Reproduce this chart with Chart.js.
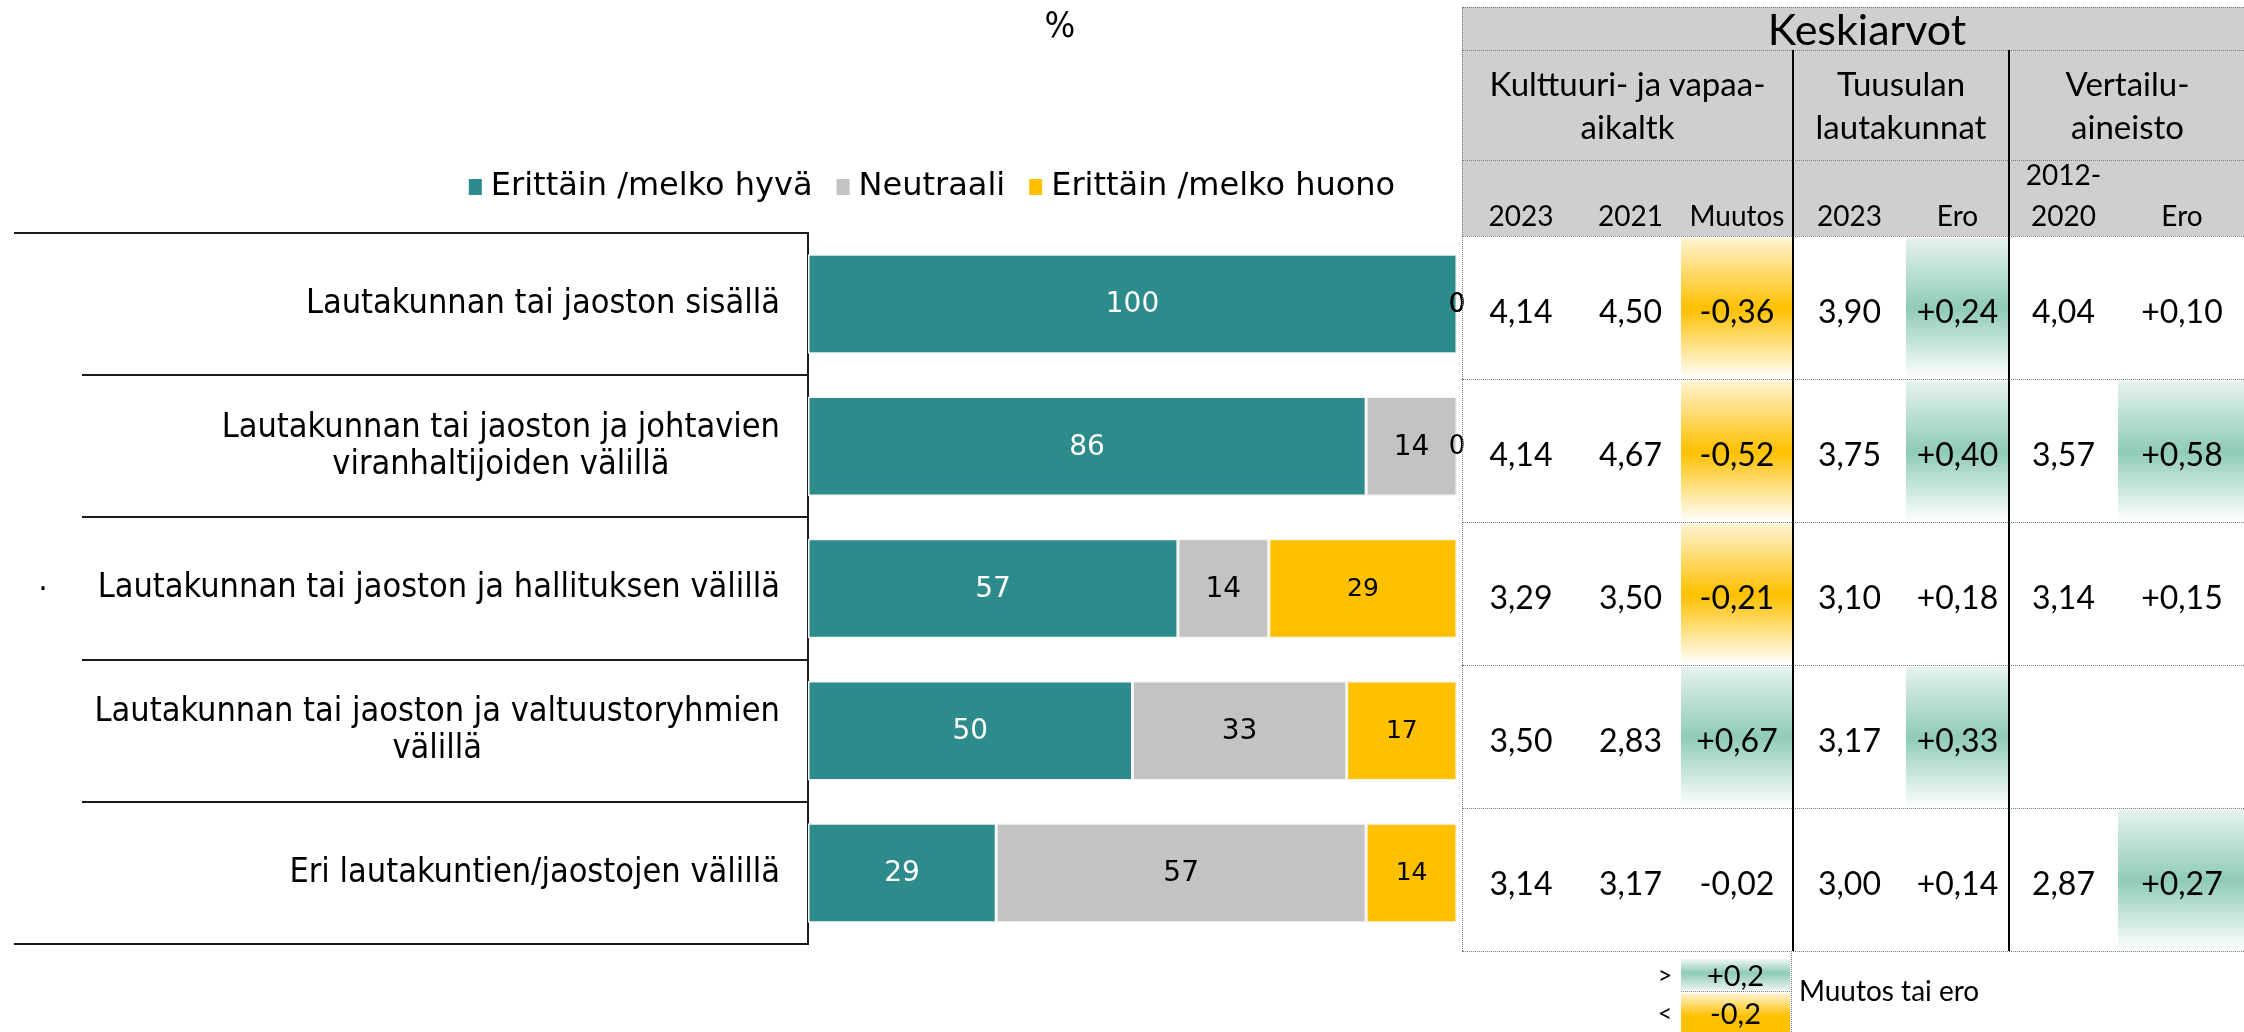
<!DOCTYPE html>
<html>
<head>
<meta charset="utf-8">
<script src="https://cdn.jsdelivr.net/npm/chart.js@4.4.0/dist/chart.umd.min.js"></script>
<style>
body{margin:0;background:#fff;}
#wrap{position:relative;width:2244px;height:1032px;overflow:hidden;}
#c{position:absolute;left:0;top:0;}
.cell{position:absolute;display:flex;align-items:center;justify-content:center;font-family:Lato,"Open Sans",sans-serif;color:#000;box-sizing:border-box;white-space:nowrap;text-align:center;}
.hl{position:absolute;border-top:1.5px dotted #7a7a7a;height:0;}
.vl{position:absolute;border-left:1.5px dotted #7a7a7a;width:0;}
.vb{position:absolute;background:#000;width:2px;}
</style>
</head>
<body>
<div id="wrap">
<canvas id="c" width="2244" height="1032"></canvas>
<div id="tbl"></div>
</div>
<script>
// bar chart data (%)
const categories = [
  ['Lautakunnan tai jaoston sisällä'],
  ['Lautakunnan tai jaoston ja johtavien', 'viranhaltijoiden välillä'],
  ['Lautakunnan tai jaoston ja hallituksen välillä'],
  ['Lautakunnan tai jaoston ja valtuustoryhmien', 'välillä'],
  ['Eri lautakuntien/jaostojen välillä']
];
const seriesNames = ['Erittäin /melko hyvä', 'Neutraali', 'Erittäin /melko huono'];
const goodShare = [100, 86, 57, 50, 29];
const neutralShare = [0, 14, 14, 33, 57];
const poorShare = [0, 0, 29, 17, 14];

// averages table
const kult2023 = [4.14, 4.14, 3.29, 3.50, 3.14];
const kult2021 = [4.50, 4.67, 3.50, 2.83, 3.17];
const kultChange = [-0.36, -0.52, -0.21, 0.67, -0.02];
const tuus2023 = [3.90, 3.75, 3.10, 3.17, 3.00];
const tuusDiff = [0.24, 0.40, 0.18, 0.33, 0.14];
const ref2012 = [4.04, 3.57, 3.14, null, 2.87];
const refDiff = [0.10, 0.58, 0.15, null, 0.27];

const colors = ['#2E8B8B', '#C4C3C4', '#FFC000'];
const labelFont = '"DejaVu Sans", Verdana, sans-serif';
const condFont = '"DejaVu Sans Condensed", "DejaVu Sans", sans-serif';

const extras = {
  id: 'extras',
  afterDatasetsDraw(chart) {
    const ctx = chart.ctx;
    chart.data.datasets.forEach((ds, di) => {
      const meta = chart.getDatasetMeta(di);
      meta.data.forEach((bar, i) => {
        const v = ds.data[i];
        const x = (bar.x + bar.base) / 2;
        ctx.save();
        let size = di === 2 ? 25 : 28;
        if (v === 0) size = 26;
        ctx.font = size + 'px ' + labelFont;
        ctx.fillStyle = di === 0 ? '#ffffff' : '#000000';
        ctx.textAlign = 'center';
        ctx.textBaseline = 'middle';
        ctx.fillText(String(v), x, bar.y + 1);
        ctx.restore();
      });
    });
  },
  afterDraw(chart) {
    const ctx = chart.ctx;
    const y = chart.scales.y;
    const area = chart.chartArea;
    const step = y.getPixelForValue(1) - y.getPixelForValue(0);
    ctx.save();
    // row lines of the label table
    ctx.strokeStyle = '#1a1a1a';
    ctx.lineWidth = 2;
    for (let i = 0; i <= categories.length; i++) {
      const py = Math.round(y.getPixelForValue(0) - step / 2 + i * step);
      const x0 = (i === 0 || i === categories.length) ? 14 : 82;
      ctx.beginPath();
      ctx.moveTo(x0, py);
      ctx.lineTo(area.left, py);
      ctx.stroke();
    }
    // category labels
    ctx.font = '34px ' + condFont;
    ctx.fillStyle = '#000';
    ctx.textBaseline = 'middle';
    const right = area.left - 28;
    categories.forEach((lines, i) => {
      const cy = y.getPixelForValue(i);
      const lh = 37;
      const widest = Math.max(...lines.map(l => ctx.measureText(l).width));
      lines.forEach((l, k) => {
        const ly = cy - (lines.length - 1) * lh / 2 + k * lh;
        if (lines.length === 1) {
          ctx.textAlign = 'right';
          ctx.fillText(l, right, ly);
        } else {
          ctx.textAlign = 'center';
          ctx.fillText(l, right - widest / 2, ly);
        }
      });
    });
    // legend
    ctx.font = '32px ' + labelFont;
    ctx.textAlign = 'left';
    const gap = 9, mw = 13, sp = 24;
    const widths = seriesNames.map(n => ctx.measureText(n).width);
    let total = widths.reduce((a, b) => a + b, 0) + seriesNames.length * (mw + gap) + sp * (seriesNames.length - 1);
    let lx = 932 - total / 2;
    const ly = 187;
    seriesNames.forEach((n, i) => {
      ctx.fillStyle = chart.data.datasets[i].backgroundColor;
      ctx.fillRect(lx, ly - 8, mw, 16);
      ctx.fillStyle = '#000';
      ctx.fillText(n, lx + mw + gap, ly);
      lx += mw + gap + widths[i] + sp;
    });
    // unit
    ctx.textAlign = 'center';
    ctx.font = '36px ' + condFont;
    ctx.fillText('%', 1060, 28);
    ctx.font = '30px ' + labelFont;
    ctx.fillText('·', 43, 591);
    ctx.restore();
  }
};

new Chart(document.getElementById('c'), {
  type: 'bar',
  data: {
    labels: categories,
    datasets: [
      {label: seriesNames[0], data: goodShare, backgroundColor: colors[0]},
      {label: seriesNames[1], data: neutralShare, backgroundColor: colors[1]},
      {label: seriesNames[2], data: poorShare, backgroundColor: colors[2]}
    ]
  },
  options: {
    indexAxis: 'y',
    responsive: false,
    animation: false,
    categoryPercentage: 1,
    barPercentage: 0.7,
    borderColor: '#f4f4f4',
    borderWidth: 1.5,
    borderSkipped: false,
    layout: {padding: {top: 233, bottom: 88, right: 787, left: 0}},
    plugins: {legend: {display: false}, title: {display: false}, tooltip: {enabled: false}},
    scales: {
      x: {stacked: true, min: 0, max: 100, display: false},
      y: {
        stacked: true,
        grid: {display: false},
        border: {display: true, color: '#1a1a1a', width: 2},
        ticks: {display: false},
        afterFit(s) { s.width = 808; }
      }
    }
  },
  plugins: [extras]
});

// ---- averages table (HTML) ----
const tbl = document.getElementById('tbl');
function cell(x, y, w, h, text, css) {
  const d = document.createElement('div');
  d.className = 'cell';
  d.style.left = x + 'px'; d.style.top = y + 'px';
  d.style.width = w + 'px'; d.style.height = h + 'px';
  if (css) d.style.cssText += css;
  d.innerHTML = text;
  tbl.appendChild(d);
  return d;
}
function hline(x, y, w) {
  const d = document.createElement('div');
  d.className = 'hl';
  d.style.left = x + 'px'; d.style.top = y + 'px'; d.style.width = w + 'px';
  tbl.appendChild(d);
}
function vline(x, y, h, cls) {
  const d = document.createElement('div');
  d.className = cls || 'vl';
  d.style.left = x + 'px'; d.style.top = y + 'px'; d.style.height = h + 'px';
  tbl.appendChild(d);
}
const fmt = v => v.toFixed(2).replace('.', ',');
const fmtS = v => (v > 0 ? '+' : '') + fmt(v);
const yellowBg = 'background:linear-gradient(to bottom,#fff3d2 0%,#ffc000 50%,#ffffff 100%);';
const greenBg = 'background:linear-gradient(to bottom,#e6f2ee 0%,#8fcbb7 50%,#ffffff 100%);';
function hiBg(v) { return v >= 0.2 ? greenBg : (v <= -0.2 ? yellowBg : ''); }

const cols = [1462, 1580, 1681, 1793, 1906, 2009, 2118, 2246];
const tLeft = 1462, tRight = 2246;
// header
cell(tLeft, 7, tRight - tLeft, 229, '', 'background:#D0CECE;');
cell(1760, 7, 214, 43, 'Keskiarvot', 'font-size:43px;');
cell(1462, 50, 331, 110, 'Kulttuuri- ja vapaa-<br>aikaltk', 'font-size:33px;line-height:43px;');
cell(1793, 50, 216, 110, 'Tuusulan<br>lautakunnat', 'font-size:33px;line-height:43px;');
cell(2009, 50, 237, 110, 'Vertailu-<br>aineisto', 'font-size:33px;line-height:43px;');
const yearHeads = ['2023', '2021', 'Muutos', '2023', 'Ero', '2012-<br>2020', 'Ero'];
yearHeads.forEach((t, i) => {
  cell(cols[i], 160, cols[i + 1] - cols[i], 76, t, 'font-size:28px;line-height:41px;align-items:flex-end;padding-bottom:0px;');
});
hline(tLeft, 7, tRight - tLeft);
hline(tLeft, 50, tRight - tLeft);
hline(tLeft, 160, tRight - tLeft);
hline(tLeft, 236, tRight - tLeft);
// data rows
const rowTop = 236, rowH = 143;
for (let r = 0; r < 5; r++) {
  const y0 = rowTop + r * rowH;
  const vals = [
    [fmt(kult2023[r]), ''],
    [fmt(kult2021[r]), ''],
    [fmtS(kultChange[r]), hiBg(kultChange[r])],
    [fmt(tuus2023[r]), ''],
    [fmtS(tuusDiff[r]), hiBg(tuusDiff[r])],
    [ref2012[r] === null ? '' : fmt(ref2012[r]), ''],
    [refDiff[r] === null ? '' : fmtS(refDiff[r]), refDiff[r] === null ? '' : hiBg(refDiff[r])]
  ];
  vals.forEach((v, i) => {
    cell(cols[i], y0 + 2, cols[i + 1] - cols[i], rowH - 2, v[0], 'font-size:32px;padding-top:4px;' + v[1]);
  });
  hline(tLeft, y0 + rowH, tRight - tLeft);
}
vline(tLeft, 7, 944);
vline(cols[3] - 1, 50, 901, 'vb');
vline(cols[5] - 1, 50, 901, 'vb');
// colour key
cell(1650, 959, 30, 30, '&gt;', 'font-size:25px;');
cell(1650, 996, 30, 32, '&lt;', 'font-size:25px;');
cell(1681, 959, 109, 31, '+0,2', 'font-size:29px;background:linear-gradient(to bottom,#eef7f4 0%,#8fcbb7 45%,#e8f3ef 100%);');
cell(1681, 993, 109, 39, '-0,2', 'font-size:29px;background:linear-gradient(to bottom,#fff5d8 0%,#ffc000 60%,#ffc000 100%);');
hline(1681, 991, 109);
vline(1791, 951, 81);
cell(1799, 970, 220, 40, 'Muutos tai ero', 'font-size:28px;justify-content:flex-start;');
</script>
</body>
</html>
